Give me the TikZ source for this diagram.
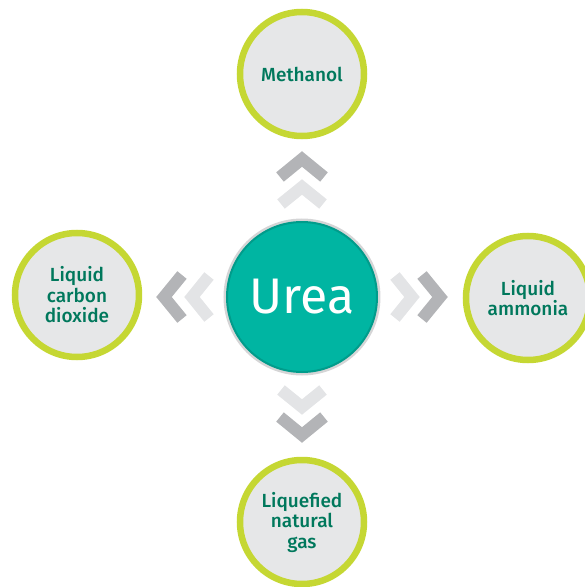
\documentclass[tikz,border=0pt]{standalone}
\usepackage{fontspec}
\setmainfont{Fira Sans}[BoldFont={Fira Sans Medium}]
\definecolor{limering}{HTML}{C5D733}
\definecolor{discfill}{HTML}{E6E7E8}
\definecolor{labelgreen}{HTML}{00785C}
\definecolor{ureateal}{HTML}{00B5A2}
\definecolor{ureaedge}{HTML}{009C8B}
\definecolor{urearing}{HTML}{D5D5D6}
\definecolor{chevdark}{HTML}{B3B4B7}
\definecolor{chevlight}{HTML}{E3E4E6}
\tikzset{
		product/.style={circle, draw=limering, line width=6.5pt, fill=discfill,
			minimum size=124pt, inner sep=0pt, align=center, text=labelgreen,
			font=\fontsize{19}{20.5}\selectfont\bfseries},
		chevron/.style={line width=12pt, line join=miter}
	}

\begin{document}
\begin{tikzpicture}[x=1pt, y=1pt]
		\useasboundingbox (-302,-290) rectangle (283,297);
		% centre disc
		\node[circle, draw=urearing, line width=3pt, fill=ureateal, minimum size=154pt, inner sep=0pt,
			text=white, font=\fontsize{50}{50}\selectfont] (urea) at (0,0) {Urea};
		\draw[ureaedge, line width=2pt] (urea.center) circle [radius=75];
		% products
		\node[product] (methanol) at (0,223) {Methanol};
		\node[product] (co2) at (-225,2) {Liquid\\carbon\\dioxide};
		\node[product] (ammonia) at (226,-1) {Liquid\\ammonia};
		\node[product] (lng) at (0,-225) {Liquefied\\natural\\gas};
		% chevrons
		\foreach \a in {0,90,180,270}{
			\draw[chevron, chevlight, rotate=\a] (93,21) -- (110,0) -- (93,-21);
			\draw[chevron, chevdark, rotate=\a] (120,22) -- (138,0) -- (120,-22);
		}
	\end{tikzpicture}
\end{document}
